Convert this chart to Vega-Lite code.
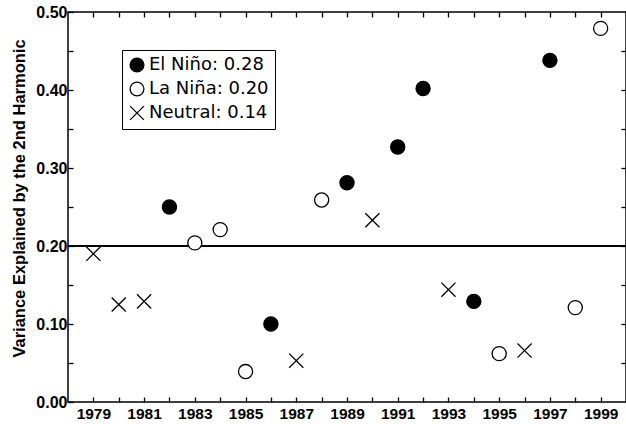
{
  "$schema": "https://vega.github.io/schema/vega-lite/v6.json",
  "autosize": {"type": "none"},
  "padding": {"left": 68, "top": 12, "right": 0, "bottom": 22},
  "width": 558,
  "height": 390,
  "background": "white",
  "config": {
    "view": {"stroke": "black", "strokeWidth": 1.5},
    "legend": {
      "orient": "none",
      "legendX": 54,
      "legendY": 38,
      "strokeColor": "black",
      "fillColor": "white",
      "padding": 6,
      "labelFont": "DejaVu Sans",
      "labelFontSize": 18,
      "labelColor": "black",
      "labelLimit": 400,
      "labelOffset": 3,
      "symbolSize": 190,
      "symbolStrokeWidth": 1.3,
      "rowPadding": 4
    }
  },
  "data": {
    "values": [
      {"year": 1979, "var": 0.190, "type": "Neutral"},
      {"year": 1980, "var": 0.125, "type": "Neutral"},
      {"year": 1981, "var": 0.129, "type": "Neutral"},
      {"year": 1982, "var": 0.250, "type": "El Niño"},
      {"year": 1983, "var": 0.204, "type": "La Niña"},
      {"year": 1984, "var": 0.221, "type": "La Niña"},
      {"year": 1985, "var": 0.039, "type": "La Niña"},
      {"year": 1986, "var": 0.100, "type": "El Niño"},
      {"year": 1987, "var": 0.053, "type": "Neutral"},
      {"year": 1988, "var": 0.259, "type": "La Niña"},
      {"year": 1989, "var": 0.281, "type": "El Niño"},
      {"year": 1990, "var": 0.233, "type": "Neutral"},
      {"year": 1991, "var": 0.327, "type": "El Niño"},
      {"year": 1992, "var": 0.402, "type": "El Niño"},
      {"year": 1993, "var": 0.144, "type": "Neutral"},
      {"year": 1994, "var": 0.129, "type": "El Niño"},
      {"year": 1995, "var": 0.062, "type": "La Niña"},
      {"year": 1996, "var": 0.066, "type": "Neutral"},
      {"year": 1997, "var": 0.438, "type": "El Niño"},
      {"year": 1998, "var": 0.121, "type": "La Niña"},
      {"year": 1999, "var": 0.479, "type": "La Niña"}
    ]
  },
  "layer": [
    {
      "mark": {"type": "rule", "color": "black", "strokeWidth": 1.5},
      "encoding": {
        "y": {
          "datum": 0.2,
          "type": "quantitative",
          "scale": {"domain": [0, 0.5], "nice": false, "zero": true},
          "axis": {"orient": "right", "labels": false, "title": null, "grid": false, "domain": false,
                   "offset": -5, "ticks": true, "tickColor": "black", "tickWidth": 1.3, "tickSize": 5,
                   "values": [0.05, 0.1, 0.15, 0.2, 0.25, 0.3, 0.35, 0.4, 0.45]}
        }
      }
    },
    {
      "mark": {"type": "point", "filled": true, "strokeWidth": 1.3, "opacity": 1, "size": 200},
      "encoding": {
        "x": {
          "field": "year", "type": "quantitative",
          "scale": {"domain": [1978, 2000], "nice": false, "zero": false},
          "axis": {
            "orient": "bottom", "title": null, "grid": false, "domain": false,
            "offset": -5, "ticks": true, "tickColor": "black", "tickWidth": 1.3, "tickSize": 5,
            "labelColor": "black", "labelFont": "Liberation Sans", "labelFontWeight": "bold", "labelFontSize": 15.5,
            "labelPadding": 4,
            "values": [1979,1980,1981,1982,1983,1984,1985,1986,1987,1988,1989,1990,1991,1992,1993,1994,1995,1996,1997,1998,1999],
            "labelExpr": "datum.value % 2 == 1 ? format(datum.value, 'd') : ''"
          }
        },
        "y": {
          "field": "var", "type": "quantitative",
          "scale": {"domain": [0, 0.5], "nice": false, "zero": true},
          "axis": {
            "orient": "left", "title": "Variance Explained by the 2nd Harmonic", "grid": false, "domain": false,
            "offset": -5, "ticks": true, "tickColor": "black", "tickWidth": 1.3, "tickSize": 5,
            "labelColor": "black", "labelFont": "Liberation Sans", "labelFontWeight": "bold", "labelFontSize": 16,
            "titleColor": "black", "titleFont": "Liberation Sans", "titleFontWeight": "bold", "titleFontSize": 16.5,
            "labelPadding": 1, "titlePadding": 8, "titleY": 186,
            "values": [0, 0.05, 0.1, 0.15, 0.2, 0.25, 0.3, 0.35, 0.4, 0.45, 0.5],
            "labelExpr": "round(datum.value * 100) % 10 == 0 ? format(datum.value, '.2f') : ''"
          }
        },
        "shape": {
          "field": "type", "type": "nominal",
          "scale": {"domain": ["El Niño", "La Niña", "Neutral"], "range": ["circle", "circle", "M-1,-1L1,1M-1,1L1,-1"]},
          "legend": {"title": null, "labelExpr": "datum.label == 'El Niño' ? 'El Niño: 0.28' : datum.label == 'La Niña' ? 'La Niña: 0.20' : 'Neutral: 0.14'"}
        },
        "fill": {
          "field": "type", "type": "nominal",
          "scale": {"domain": ["El Niño", "La Niña", "Neutral"], "range": ["black", "white", "transparent"]},
          "legend": {"title": null, "labelExpr": "datum.label == 'El Niño' ? 'El Niño: 0.28' : datum.label == 'La Niña' ? 'La Niña: 0.20' : 'Neutral: 0.14'"}
        },
        "stroke": {
          "field": "type", "type": "nominal",
          "scale": {"domain": ["El Niño", "La Niña", "Neutral"], "range": ["black", "black", "black"]},
          "legend": {"title": null, "labelExpr": "datum.label == 'El Niño' ? 'El Niño: 0.28' : datum.label == 'La Niña' ? 'La Niña: 0.20' : 'Neutral: 0.14'"}
        }
      }
    },
    {
      "mark": {"type": "point", "opacity": 0},
      "encoding": {
        "x": {
          "field": "year", "type": "quantitative",
          "axis": {"orient": "top", "labels": false, "title": null, "grid": false, "domain": false,
                   "offset": -5, "ticks": true, "tickColor": "black", "tickWidth": 1.3, "tickSize": 5,
                   "values": [1979,1980,1981,1982,1983,1984,1985,1986,1987,1988,1989,1990,1991,1992,1993,1994,1995,1996,1997,1998,1999]}
        },
        "y": {"field": "var", "type": "quantitative", "axis": null}
      }
    }
  ]
}
